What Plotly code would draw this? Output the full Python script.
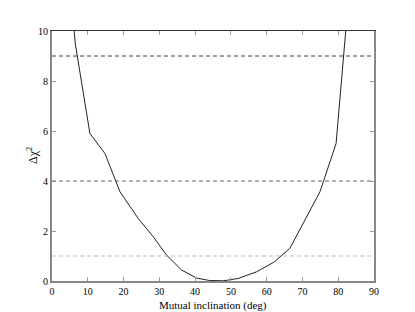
import plotly.graph_objects as go

inclination = [6.2, 6.5, 10.6, 14.8, 19.0, 24.1, 28.3, 32.0, 36.2, 40.4, 44.0, 46.0, 48.0, 52.0, 57.2, 62.0, 66.5, 70.7, 74.9, 79.4, 81.4, 82.1]
delta_chi2 = [10.0, 9.5, 5.9, 5.1, 3.57, 2.5, 1.77, 1.04, 0.44, 0.12, 0.02, 0.0, 0.01, 0.1, 0.37, 0.75, 1.31, 2.44, 3.57, 5.5, 8.97, 10.0]

levels = [9, 4, 1]
level_colors = ["#444444", "#999999", "#d4d4d4"]
level_widths = [1, 1.6, 1.6]

xticks = [0, 10, 20, 30, 40, 50, 60, 70, 80, 90]
yticks = [0, 2, 4, 6, 8, 10]

fig = go.Figure()
for lv, c, w in zip(levels, level_colors, level_widths):
    fig.add_trace(go.Scatter(x=[0, 90], y=[lv, lv], mode="lines",
                             line=dict(color=c, width=w, dash="4px,3px"),
                             showlegend=False, hoverinfo="skip"))
fig.add_trace(go.Scatter(x=inclination, y=delta_chi2, mode="lines",
                         line=dict(color="#222222", width=1),
                         showlegend=False))
fig.add_trace(go.Scatter(x=[0], y=[0], xaxis="x2", mode="markers",
                         marker=dict(opacity=0), showlegend=False, hoverinfo="skip"))

FAM = "Liberation Serif"
font = dict(family=FAM, size=10, color="#000000")
fig.update_layout(
    template="none",
    width=407, height=304,
    margin=dict(l=44, r=41, t=23, b=31),
    paper_bgcolor="white", plot_bgcolor="white",
    font=font,
    xaxis=dict(range=[0, 90], tickvals=xticks, ticks="inside", ticklen=4, tickcolor="#999999",
               showline=True, linecolor="#888888", linewidth=2, mirror=False, automargin=False,
               showgrid=False, zeroline=False, tickfont=font),
    xaxis2=dict(range=[0, 90], overlaying="x", side="top", tickvals=xticks, ticks="inside",
                ticklen=4, tickcolor="#999999", showticklabels=False, showline=True, automargin=False,
                linecolor="#333333", linewidth=1, showgrid=False, zeroline=False),
    yaxis=dict(range=[0, 10], tickvals=yticks, ticks="inside", ticklen=4, tickcolor="#999999",
               showline=True, linecolor="#888888", linewidth=2, mirror="ticks", automargin=False,
               showgrid=False, zeroline=False, tickfont=font),
    annotations=[
        dict(text="Mutual inclination (deg)", xref="paper", yref="paper", x=0.5, y=0,
             yshift=-24, xanchor="center", yanchor="middle", showarrow=False,
             font=dict(family=FAM, size=11, color="#000000")),
        dict(text="Δχ<sup>2</sup>", xref="paper", yref="paper", x=0, y=0.5,
             xshift=-20, xanchor="center", yanchor="middle", textangle=-90, showarrow=False,
             font=dict(family=FAM, size=12, color="#000000")),
    ],
)
fig.write_html("out.html")
